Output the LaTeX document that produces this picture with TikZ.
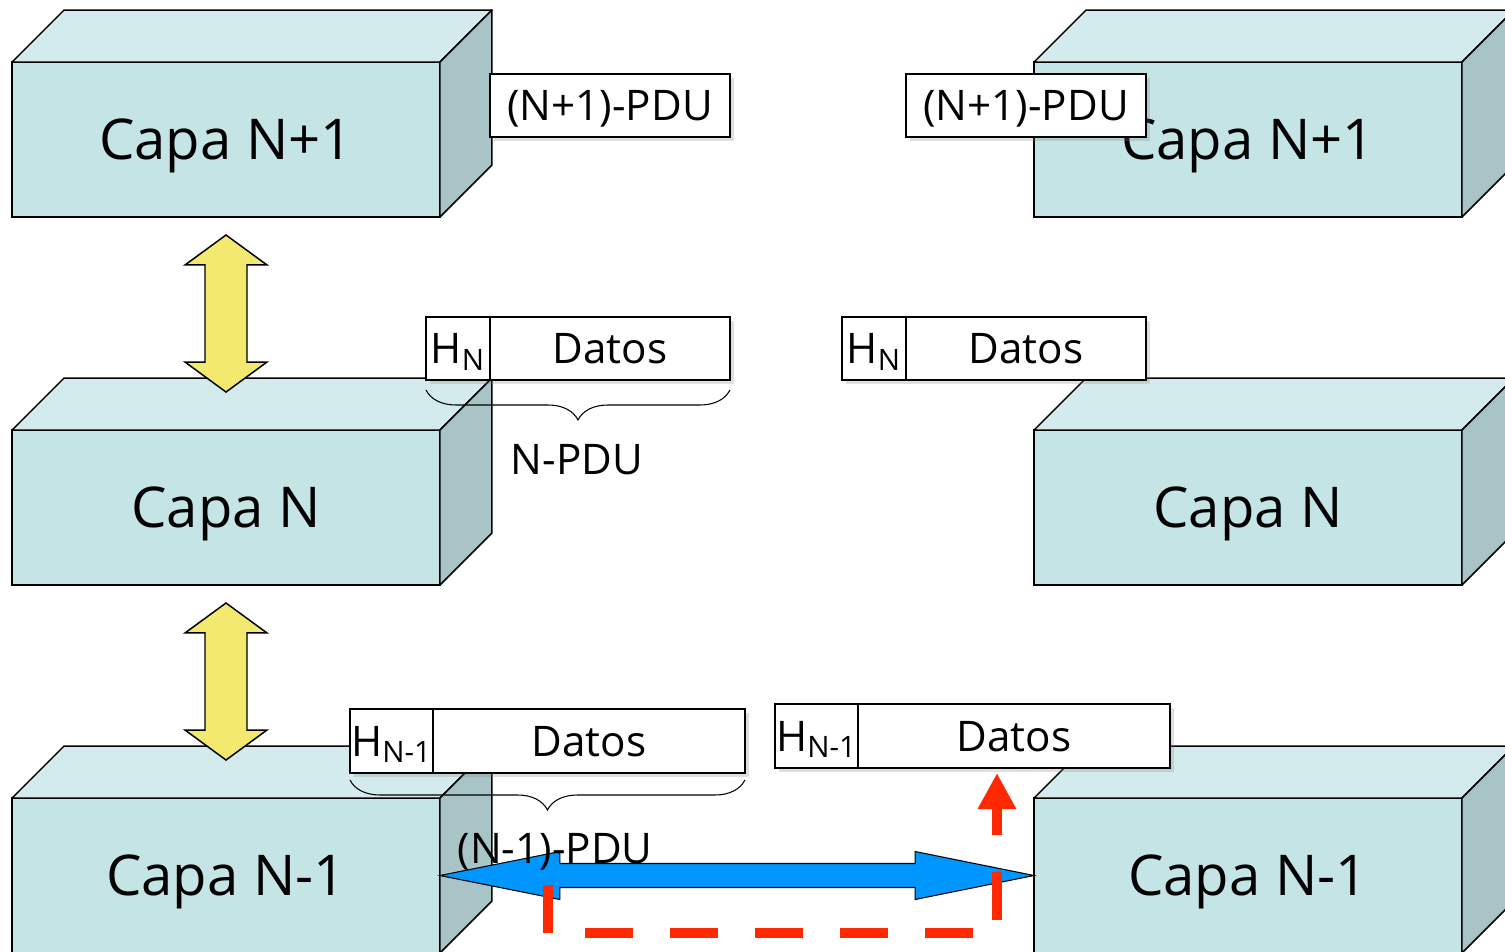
\documentclass[tikz,border=0pt]{standalone}
\usepackage{fontspec}
\setmainfont{Open Sans}
\usetikzlibrary{positioning,calc,arrows.meta,shadows,decorations.pathreplacing}
\definecolor{capafrente}{RGB}{196,228,230}
\definecolor{capatecho}{RGB}{211,235,236}
\definecolor{capalado}{RGB}{168,196,198}
\definecolor{amarillo}{RGB}{242,233,110}
\definecolor{azul}{RGB}{0,150,255}
\definecolor{rojo}{RGB}{255,40,0}

\begin{document}
\begin{tikzpicture}[
    x=0.02cm, y=-0.02cm,
    capa/.style={draw, fill=capafrente, line width=0.85pt, minimum width=8.56cm, minimum height=3.1cm, inner sep=0pt, outer sep=0pt, text depth=0pt, font=\fontsize{32}{38}\selectfont},
    techo/.style={draw, fill=capatecho, line width=0.85pt, line join=round},
    lado/.style={draw, fill=capalado, line width=0.85pt, line join=round},
    pdu/.style={draw, fill=white, line width=0.85pt, minimum height=1.26cm, inner sep=0pt, outer sep=0pt, text depth=0pt, font=\fontsize{24}{28}\selectfont, drop shadow={opacity=0.25, shadow xshift=0.08cm, shadow yshift=-0.08cm}},
    llave/.style={decorate, decoration={brace, mirror, amplitude=0.6cm}, line width=0.6pt},
    etiq/.style={font=\fontsize{24}{28}\selectfont, inner sep=0pt},
    flechaam/.style={draw, fill=amarillo, line width=0.85pt},
    flechaaz/.style={draw, fill=azul, line width=0.6pt},
    rojodash/.style={draw=rojo, line width=0.2cm, dash pattern=on 0.96cm off 0.74cm, -{Triangle[width=0.72cm, length=0.72cm]}}
]
\useasboundingbox (0,0) rectangle (1505,951);
\clip (0,0) rectangle (1505,951);

% capas de los dos sistemas
\foreach \nm/\x/\y/\txt in {cl1/226/139.5/Capa N+1, cl2/226/507.5/Capa N, cl3/226/875.5/Capa N-1,
                            cr1/1248/139.5/Capa N+1, cr2/1248/507.5/Capa N, cr3/1248/875.5/Capa N-1}{
  \node[capa] (\nm) at (\x,\y) {\txt};
  \draw[techo] (\nm.north west) -- ++(52,-52) -- ++(428,0) -- (\nm.north east) -- cycle;
  \draw[lado] (\nm.north east) -- ++(52,-52) -- ++(0,155) -- (\nm.south east) -- cycle;
}

% servicios entre capas
\foreach \a/\b in {cl1/cl2, cl2/cl3}{
  \coordinate (pa) at ($(\a.south)+(0,18)$);
  \coordinate (pb) at ($(\b.north)+(0,-38)$);
  \draw[flechaam] (pa) -- ++(41,30) -- ++(-20,0) -- ($(pb)+(21,-30)$) -- ++(20,0) -- (pb)
    -- ++(-41,-30) -- ++(20,0) -- ($(pa)+(-21,30)$) -- ++(-20,0) -- cycle;
}

% unidades de datos
\node[pdu, minimum width=4.8cm] (pduL) at (610,105.5) {(N+1)-PDU};
\node[pdu, minimum width=4.8cm] (pduR) at (1026,105.5) {(N+1)-PDU};

\node[pdu, minimum width=1.28cm] (hNL) at (458,348.5) {H\textsubscript{N}};
\node[pdu, minimum width=4.8cm, right=0pt of hNL] (datosNL) {Datos};
\node[pdu, minimum width=1.28cm] (hNR) at (874,348.5) {H\textsubscript{N}};
\node[pdu, minimum width=4.8cm, right=0pt of hNR] (datosNR) {Datos};

\node[pdu, minimum width=1.66cm, minimum height=1.28cm] (hN1L) at (391.5,741) {H\textsubscript{N-1}};
\node[pdu, minimum width=6.24cm, minimum height=1.28cm, right=0pt of hN1L] (datosN1L) {Datos};
\node[pdu, minimum width=1.66cm, minimum height=1.28cm] (hN1R) at (816.5,736) {H\textsubscript{N-1}};
\node[pdu, minimum width=6.24cm, minimum height=1.28cm, right=0pt of hN1R] (datosN1R) {Datos};

\draw[llave] ($(hNL.south west)+(0,10)$) -- ($(datosNL.south east)+(0,10)$);
\node[etiq] (npdu) at (577,460) {N-PDU};
\draw[llave] ($(hN1L.south west)+(0,7)$) -- ($(datosN1L.south east)+(0,7)$);

% comunicacion entre pares
\draw[flechaaz] (cl3.east) -- ++(120,-24) -- ++(0,12) -- ($(cr3.west)+(-119,-12)$) -- ++(0,-12) -- (cr3.west)
  -- ++(-119,24) -- ++(0,-12) -- ($(cl3.east)+(120,12)$) -- ++(0,12) -- cycle;
\coordinate (r0) at (548,885);
\draw[rojodash] (r0) |- ($(datosN1R.south)+(-17,165)$) -- ($(datosN1R.south)+(-17,5)$);
\node[etiq] (n1pdu) at (555,852) {(N-1)-PDU};
\end{tikzpicture}
\end{document}
